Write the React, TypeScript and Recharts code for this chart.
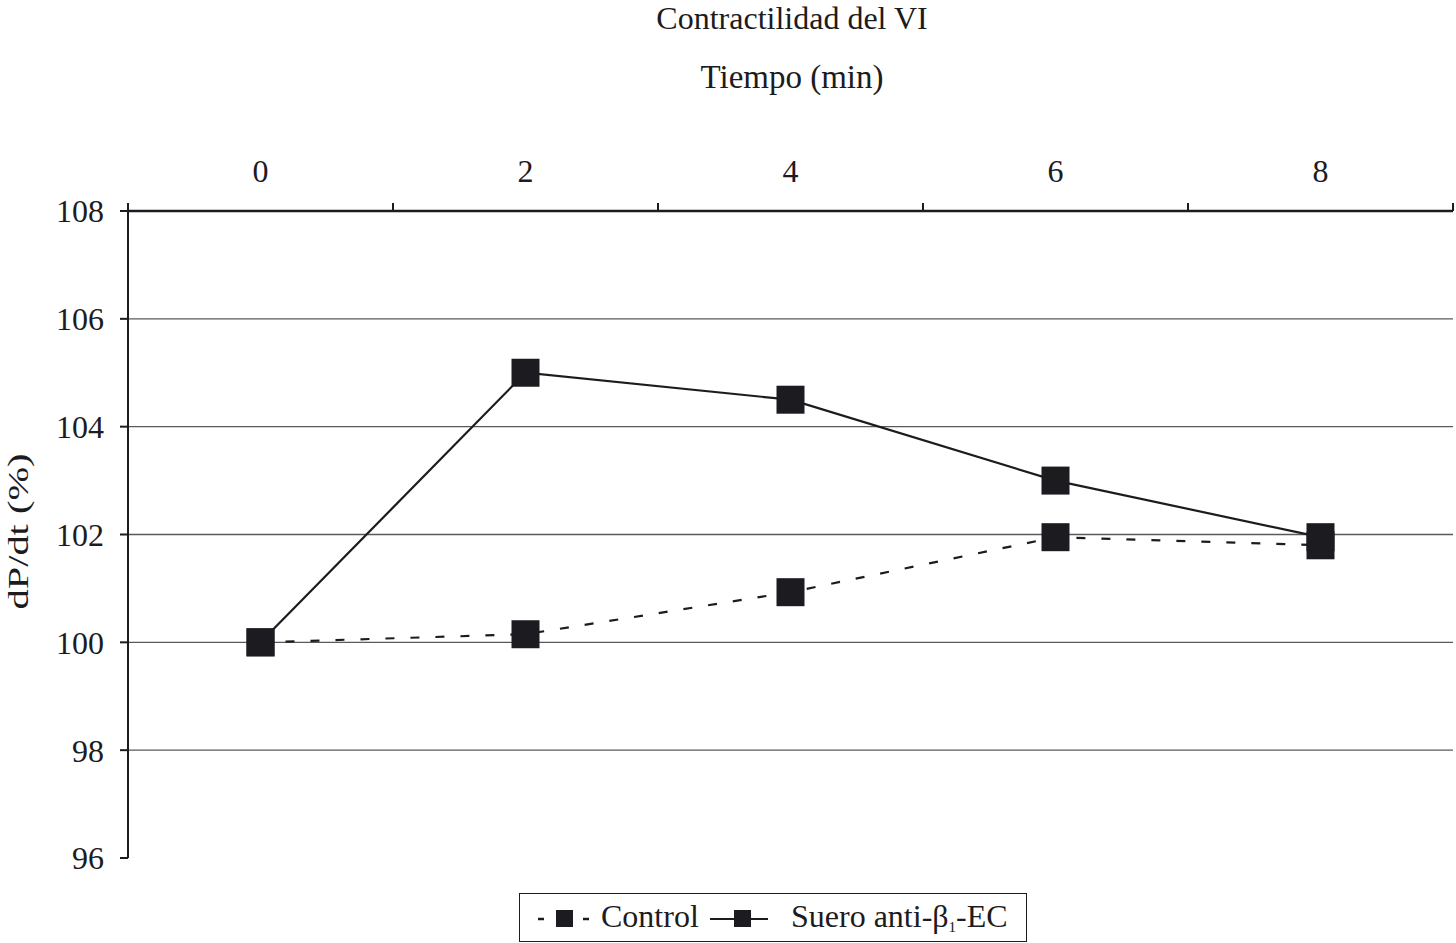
import { LineChart, Line, XAxis, YAxis, ReferenceLine, Legend } from 'recharts'

const times = [0, 2, 4, 6, 8]
const control = [100, 100.15, 100.93, 101.95, 101.8]
const suero = [100, 105, 104.5, 103, 101.95]
const yTicks = [96, 98, 100, 102, 104, 106, 108]
const gridValues = [98, 100, 102, 104, 106]
// odd values are the category boundaries (tick marks), even values carry the labels
const xTicks = [-1, 0, 1, 2, 3, 4, 5, 6, 7, 8, 9]

const data = times.map((t, i) => ({ t, control: control[i], suero: suero[i] }))

const FONT = '"Liberation Serif", "Times New Roman", serif'
const INK = '#1c1b20'

const SquareDot = (props: any) => {
    const { cx, cy } = props
    if (cx == null || cy == null) return null
    return <rect x={cx - 14} y={cy - 14} width={28} height={28} fill={INK} />
}

const TopTick = (props: any) => {
    const { x, y, payload } = props
    const v = payload.value
    if (Math.abs(v % 2) === 1) {
        return <line x1={x} y1={y} x2={x} y2={y - 8} stroke={INK} strokeWidth={2} />
    }
    return (
        <text x={x} y={y - 29} textAnchor="middle" style={{ fontFamily: FONT, fontSize: 32, fill: INK }}>
            {v}
        </text>
    )
}

const YLabel = (props: any) => {
    const vb = props.viewBox || {}
    const cy = (vb.y ?? 0) + (vb.height ?? 0) / 2 - 3
    return (
        <text x={28} y={cy} transform={`rotate(-90, 28, ${cy})`} textAnchor="middle"
            textLength={156} lengthAdjust="spacingAndGlyphs"
            style={{ fontFamily: FONT, fontSize: 30, fill: INK }}>
            dP/dt (%)
        </text>
    )
}

const LegendBox = () => (
    <div style={{ paddingTop: 35, fontFamily: FONT, fontSize: 32, color: INK }}>
        <div style={{
            position: 'relative', marginLeft: 519, width: 506, height: 47,
            border: `1.5px solid ${INK}`, boxSizing: 'content-box',
        }}>
            <svg width={260} height={47} style={{ position: 'absolute', left: 0, top: 0 }}>
                <line x1={18} y1={25} x2={24} y2={25} stroke={INK} strokeWidth={2.5} />
                <rect x={36} y={16} width={17} height={17} fill={INK} />
                <line x1={63} y1={25} x2={69} y2={25} stroke={INK} strokeWidth={2.5} />
                <line x1={190} y1={25} x2={248} y2={25} stroke={INK} strokeWidth={2} />
                <rect x={214} y={16} width={17} height={17} fill={INK} />
            </svg>
            <span style={{ position: 'absolute', left: 81, top: 4, lineHeight: '36px', whiteSpace: 'nowrap' }}>Control</span>
            <span style={{ position: 'absolute', left: 271, top: 4, lineHeight: '36px', whiteSpace: 'nowrap' }}>
                Suero anti-β<sub style={{ fontSize: 15, verticalAlign: '-0.3em' }}>1</sub>-EC
            </span>
        </div>
    </div>
)

export default function App() {
    return (
        <div style={{ position: 'absolute', left: 0, top: 0, width: 1456, height: 943, background: '#fff', overflow: 'hidden' }}>
            <div style={{ position: 'absolute', left: 792, top: 0, transform: 'translateX(-50%)', fontFamily: FONT, fontSize: 32, lineHeight: 'normal', color: INK, whiteSpace: 'nowrap' }}>
                Contractilidad del VI
            </div>
            <div style={{ position: 'absolute', left: 792, top: 63, transform: 'translateX(-50%)', fontFamily: FONT, fontSize: 33, lineHeight: '29px', color: INK, whiteSpace: 'nowrap' }}>
                Tiempo (min)
            </div>
            <LineChart width={1456} height={943} data={data} margin={{ top: 141, right: 3, left: 0, bottom: 1 }}>
                <XAxis orientation="top" type="number" dataKey="t" domain={[-1, 9]}
                    allowDataOverflow ticks={xTicks} interval={0} height={70} tickSize={0} tickMargin={0}
                    axisLine={{ stroke: INK, strokeWidth: 2.5 }} tickLine={false}
                    tick={<TopTick />} />
                <YAxis type="number" domain={[96, 108]} ticks={yTicks} width={128} tickSize={8} tickMargin={16}
                    axisLine={{ stroke: INK, strokeWidth: 2 }} tickLine={{ stroke: INK, strokeWidth: 2 }}
                    tick={{ fontFamily: FONT, fontSize: 32, fill: INK }}
                    label={<YLabel />} />
                {gridValues.map(v => (
                    <ReferenceLine key={v} y={v} stroke="#5a5a5a" strokeWidth={1.3} />
                ))}
                <Line type="linear" dataKey="control" stroke={INK} strokeWidth={2.2}
                    strokeDasharray="9 16" dot={<SquareDot />} activeDot={false} isAnimationActive={false} />
                <Line type="linear" dataKey="suero" stroke={INK} strokeWidth={2.2}
                    dot={<SquareDot />} activeDot={false} isAnimationActive={false} />
                <Legend verticalAlign="bottom" content={<LegendBox />} />
            </LineChart>
        </div>
    )
}
